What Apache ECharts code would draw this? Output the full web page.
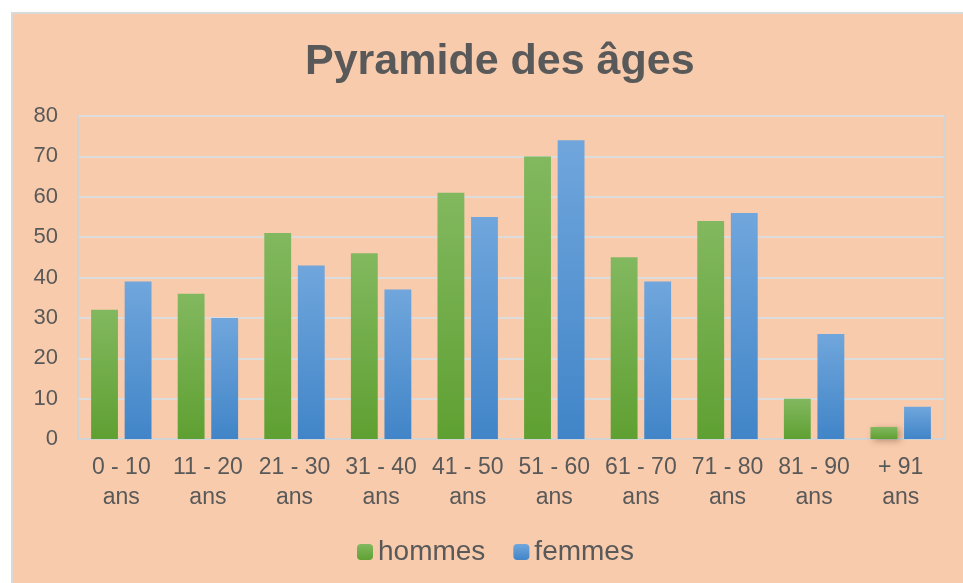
<!DOCTYPE html>
<html>
<head>
<meta charset="utf-8">
<title>Pyramide des âges</title>
<script src="https://cdn.jsdelivr.net/npm/echarts@6/dist/echarts.min.js"></script>
<style>
  html, body { margin: 0; padding: 0; background: #ffffff; }
  /* fond du graphique avec bordure grise en haut et à gauche */
  #fond {
    position: absolute; left: 11px; top: 12px; right: 0; bottom: 0;
    background: #F8CBAD;
    border-left: 2px solid #D9D9D9;
    border-top: 2px solid #D9D9D9;
  }
  #main { position: absolute; left: 0; top: 0; width: 963px; height: 583px; }
</style>
</head>
<body>
<div id="fond"></div>
<div id="main"></div>
<script>
// tranches d'âge
var categories = ['0 - 10\nans', '11 - 20\nans', '21 - 30\nans', '31 - 40\nans', '41 - 50\nans',
                  '51 - 60\nans', '61 - 70\nans', '71 - 80\nans', '81 - 90\nans', '+ 91\nans'];
// effectifs
var hommes = [32, 36, 51, 46, 61, 70, 45, 54, 10, 3];
var femmes = [39, 30, 43, 37, 55, 74, 39, 56, 26, 8];

var police = 'Liberation Sans, Arial, sans-serif';
var gris = '#595959';

function degrade(haut, bas) {
  return new echarts.graphic.LinearGradient(0, 0, 0, 1, [
    { offset: 0, color: haut },
    { offset: 1, color: bas }
  ]);
}

var myChart = echarts.init(document.getElementById('main'));

var option = {
  backgroundColor: 'transparent',
  title: {
    text: 'Pyramide des âges',
    left: 300,
    top: 36,
    textStyle: { fontFamily: police, fontSize: 43, fontWeight: 'bold', color: gris }
  },
  legend: {
    bottom: 12,
    left: 352,
    itemWidth: 16,
    itemHeight: 16,
    itemGap: 28,
    textStyle: { fontFamily: police, fontSize: 28, color: gris }
  },
  grid: {
    left: 78,
    right: 19,
    top: 116,
    bottom: 144,
    show: true,
    borderColor: '#D3D3D3',
    borderWidth: 2,
    backgroundColor: 'transparent'
  },
  xAxis: {
    type: 'category',
    data: categories,
    axisTick: { show: false },
    axisLine: { lineStyle: { color: '#D3D3D3', width: 2 } },
    axisLabel: { fontFamily: police, fontSize: 23, color: gris, lineHeight: 30, margin: 14, interval: 0 }
  },
  yAxis: {
    type: 'value',
    min: 0,
    max: 80,
    interval: 10,
    axisLine: { show: true, lineStyle: { color: '#D3D3D3', width: 2 } },
    axisTick: { show: false },
    splitLine: { lineStyle: { color: '#DCDCDC', width: 2 } },
    axisLabel: { fontFamily: police, fontSize: 22, color: gris, margin: 20 }
  },
  series: [
    {
      name: 'hommes',
      type: 'bar',
      data: hommes,
      barWidth: '31%',
      barGap: '25%',
      itemStyle: {
        color: degrade('#82B85F', '#5FA032'),
        shadowColor: 'rgba(90, 50, 20, 0.4)',
        shadowBlur: 7,
        shadowOffsetX: 3,
        shadowOffsetY: 2
      }
    },
    {
      name: 'femmes',
      type: 'bar',
      data: femmes,
      barWidth: '31%',
      barGap: '25%',
      itemStyle: {
        color: degrade('#70A6DC', '#4185C8'),
        shadowColor: 'rgba(90, 50, 20, 0.4)',
        shadowBlur: 7,
        shadowOffsetX: 3,
        shadowOffsetY: 2
      }
    }
  ]
};

myChart.setOption(option);
</script>
</body>
</html>
